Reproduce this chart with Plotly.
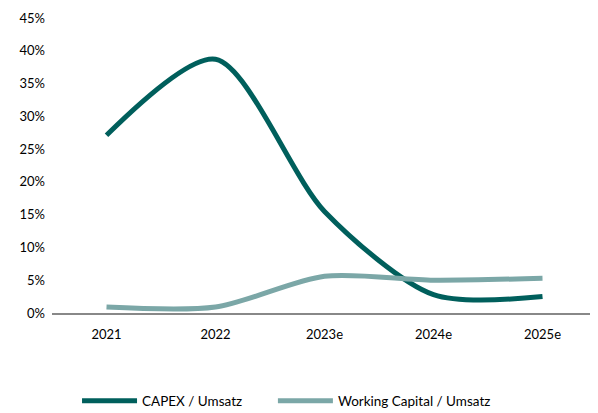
import plotly.graph_objects as go

years = ["2021", "2022", "2023e", "2024e", "2025e"]
capex = [0.271, 0.387, 0.155, 0.028, 0.025]
working_capital = [0.009, 0.009, 0.056, 0.050, 0.053]

fig = go.Figure()
fig.add_trace(go.Scatter(
    x=years, y=capex, name="CAPEX / Umsatz", mode="lines", legend="legend",
    line=dict(color="#005f5c", width=5, shape="spline", smoothing=0.8),
))
fig.add_trace(go.Scatter(
    x=years, y=working_capital, name="Working Capital / Umsatz", mode="lines",
    legend="legend2",
    line=dict(color="#7ba7a7", width=5, shape="spline", smoothing=0.8),
))

leg = dict(orientation="h", xref="container", xanchor="left", yref="container",
           y=0.03, yanchor="middle", font=dict(size=13.5), itemwidth=55)

# page body has an 8px margin, so the figure is a bit smaller than the window
fig.update_layout(
    width=590, height=405,
    margin=dict(l=44, r=1, t=10, b=100, autoexpand=False),
    plot_bgcolor="white", paper_bgcolor="white",
    font=dict(family="Lato, Open Sans, sans-serif", size=13, color="#000000"),
    showlegend=True,
    legend=dict(leg, x=0.117),
    legend2=dict(leg, x=0.449),
)
fig.update_xaxes(showline=True, linecolor="#888888", linewidth=2, showgrid=False,
                 ticks="", ticklabelstandoff=8, range=[-0.5, 4.5], automargin=False)
fig.update_yaxes(range=[0, 0.45], dtick=0.05, tickformat=".0%", showgrid=False,
                 zeroline=False, showline=False, ticks="", ticklabelstandoff=6,
                 automargin=False)

fig.write_html("out.html")
